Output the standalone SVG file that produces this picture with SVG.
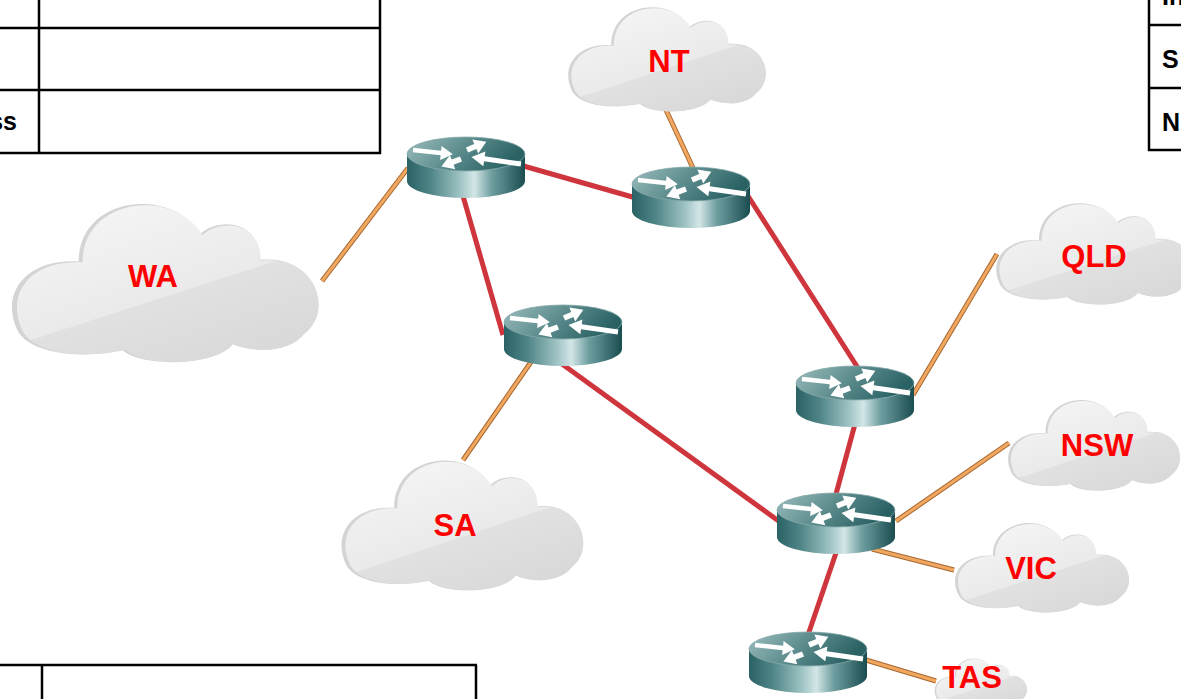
<svg xmlns="http://www.w3.org/2000/svg" xmlns:xlink="http://www.w3.org/1999/xlink" width="1181" height="699" viewBox="0 0 1181 699">
<style>
.tbl{stroke:#000;stroke-width:2.5;fill:none}
.th{font-family:"Liberation Sans",Arial,sans-serif;font-weight:bold;font-size:25px;fill:#000}
.lbl{font-family:"Liberation Sans",Arial,sans-serif;font-weight:bold;font-size:31px;fill:#ff0000;text-anchor:middle}
.red{stroke:#cf353c;stroke-width:5;fill:none}
.oe{stroke:#a8672f;stroke-width:5;fill:none}
.oc{stroke:#f0a760;stroke-width:3;fill:none}
.arw{fill:#ffffff}
</style>
<defs>
<linearGradient id="cloudGrad" x1="0.17" y1="0.18" x2="0.71" y2="1.05">
<stop offset="0" stop-color="#f3f3f3"/>
<stop offset="0.5" stop-color="#eaeaea"/>
<stop offset="0.5" stop-color="#e1e1e1"/>
<stop offset="1" stop-color="#d8d8d8"/>
</linearGradient>
<linearGradient id="sideGrad" x1="0" y1="0" x2="1" y2="0">
<stop offset="0" stop-color="#2a6265"/>
<stop offset="0.2" stop-color="#4f8587"/>
<stop offset="0.45" stop-color="#9fc3c4"/>
<stop offset="0.57" stop-color="#d3e6e6"/>
<stop offset="0.72" stop-color="#6d9d9f"/>
<stop offset="1" stop-color="#1a4d50"/>
</linearGradient>
<linearGradient id="topGrad" x1="0" y1="0" x2="1" y2="0.3">
<stop offset="0" stop-color="#9cbdbe"/>
<stop offset="0.5" stop-color="#5f8e8f"/>
<stop offset="1" stop-color="#2a6264"/>
</linearGradient>
<path id="cloudPath" d="M22,37 C22,-4 52,-10 61,20 C66,10 80,10 80,36 C98,32 104,68 94,82 C90,92 80,95 71,88 C66,102 42,103 36,92 C22,98 5,94 2,78 C-3,55 6,35 22,37 Z"/>
<g id="cloud">
<use xlink:href="#cloudPath" fill="#d4d4d4"/>
<use xlink:href="#cloudPath" fill="url(#cloudGrad)" transform="translate(1.6,0.9) scale(0.985,0.99)"/>
</g>
<g id="router">
<path d="M-59,0 V27 A59,17 0 0 0 59,27 V0 Z" fill="url(#sideGrad)"/>
<ellipse cx="0" cy="0" rx="59" ry="17" fill="url(#topGrad)" stroke="#86aaab" stroke-width="0.8"/>
<path class="arw" transform="translate(-53,-4) rotate(6)" d="M0,-2.3 L28,-2.3 L28,-7 L40,0 L28,7 L28,2.3 L0,2.3 Z"/>
<path class="arw" transform="translate(55,10) rotate(188)" d="M0,-2.5 L37,-2.5 L37,-7.5 L50,0 L37,7.5 L37,2.5 L0,2.5 Z"/>
<path class="arw" transform="translate(-5,5) rotate(159)" d="M0,-2.8 L9,-2.8 L9,-7.5 L21,0 L9,7.5 L9,2.8 L0,2.8 Z"/>
<path class="arw" transform="translate(1,-4) rotate(-23)" d="M0,-2.8 L9,-2.8 L9,-7.5 L21,0 L9,7.5 L9,2.8 L0,2.8 Z"/>
</g>
</defs>
<rect width="1181" height="699" fill="#ffffff"/>

<g id="tables">
<line class="tbl" x1="0" y1="28" x2="381" y2="28"/>
<line class="tbl" x1="0" y1="90" x2="381" y2="90"/>
<line class="tbl" x1="0" y1="153" x2="381" y2="153"/>
<line class="tbl" x1="39" y1="0" x2="39" y2="154"/>
<line class="tbl" x1="380" y1="0" x2="380" y2="154"/>
<text class="th" x="17" y="130" text-anchor="end">ss</text>
<line class="tbl" x1="1149" y1="0" x2="1149" y2="151"/>
<line class="tbl" x1="1148" y1="25" x2="1181" y2="25"/>
<line class="tbl" x1="1148" y1="88" x2="1181" y2="88"/>
<line class="tbl" x1="1148" y1="150" x2="1181" y2="150"/>
<text class="th" x="1162" y="5">In</text>
<text class="th" x="1162" y="68">S</text>
<text class="th" x="1162" y="131">N</text>
<line class="tbl" x1="0" y1="665" x2="477" y2="665"/>
<line class="tbl" x1="42" y1="665" x2="42" y2="699"/>
<line class="tbl" x1="476" y1="665" x2="476" y2="699"/>
</g>

<g id="connectors">
<line class="red" x1="520" y1="165" x2="636" y2="198"/>
<line class="red" x1="463" y1="196" x2="503" y2="335"/>
<line class="red" x1="748" y1="196" x2="858" y2="368"/>
<line class="red" x1="562" y1="364" x2="780" y2="522"/>
<line class="red" x1="855" y1="424" x2="836" y2="494"/>
<line class="red" x1="837" y1="550" x2="808" y2="635"/>
<line class="oe" x1="322" y1="281" x2="408" y2="168"/>
<line class="oc" x1="322" y1="281" x2="408" y2="168"/>
<line class="oe" x1="666" y1="110" x2="693" y2="168"/>
<line class="oc" x1="666" y1="110" x2="693" y2="168"/>
<line class="oe" x1="463" y1="460" x2="531" y2="362"/>
<line class="oc" x1="463" y1="460" x2="531" y2="362"/>
<line class="oe" x1="997" y1="254" x2="913" y2="395"/>
<line class="oc" x1="997" y1="254" x2="913" y2="395"/>
<line class="oe" x1="1009" y1="443" x2="896" y2="521"/>
<line class="oc" x1="1009" y1="443" x2="896" y2="521"/>
<line class="oe" x1="872" y1="549" x2="954" y2="570"/>
<line class="oc" x1="872" y1="549" x2="954" y2="570"/>
<line class="oe" x1="866" y1="660" x2="936" y2="681"/>
<line class="oc" x1="866" y1="660" x2="936" y2="681"/>
</g>

<g id="cloud-wa"><use xlink:href="#cloud" transform="translate(10,202) scale(3.12,1.61)"/><text class="lbl" x="153" y="287">WA</text></g>
<g id="cloud-nt"><use xlink:href="#cloud" transform="translate(567,6) scale(2.01,1.06)"/><text class="lbl" x="669" y="72">NT</text></g>
<g id="cloud-qld"><use xlink:href="#cloud" transform="translate(995,202) scale(2.0,1.03)"/><text class="lbl" x="1094" y="267">QLD</text></g>
<g id="cloud-nsw"><use xlink:href="#cloud" transform="translate(1007,399) scale(1.75,0.92)"/><text class="lbl" x="1097" y="456">NSW</text></g>
<g id="cloud-sa"><use xlink:href="#cloud" transform="translate(340,459) scale(2.46,1.32)"/><text class="lbl" x="455" y="536">SA</text></g>
<g id="cloud-vic"><use xlink:href="#cloud" transform="translate(954,522) scale(1.77,0.91)"/><text class="lbl" x="1031" y="579">VIC</text></g>
<g id="cloud-tas"><use xlink:href="#cloud" transform="translate(934,658) scale(0.94,0.5)"/><text class="lbl" x="972" y="688">TAS</text></g>

<g id="router-1"><use xlink:href="#router" transform="translate(466,154)"/></g>
<g id="router-2"><use xlink:href="#router" transform="translate(691,184)"/></g>
<g id="router-3"><use xlink:href="#router" transform="translate(563,322)"/></g>
<g id="router-4"><use xlink:href="#router" transform="translate(855,383)"/></g>
<g id="router-5"><use xlink:href="#router" transform="translate(836,510)"/></g>
<g id="router-6"><use xlink:href="#router" transform="translate(808,649)"/></g>
</svg>
